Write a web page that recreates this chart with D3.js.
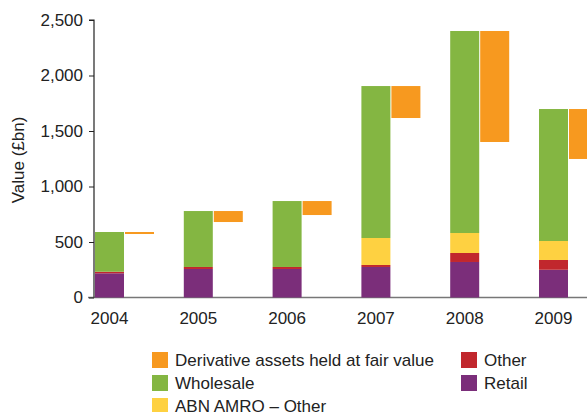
<!DOCTYPE html>
<html><head><meta charset="utf-8">
<script src="https://cdn.jsdelivr.net/npm/d3@7"></script>
<style>body{margin:0;background:#fff}svg{display:block;font-family:"Liberation Sans",Arial,sans-serif}</style>
</head><body><svg id="c" width="587" height="412"></svg>
<script>
const years = ["2004","2005","2006","2007","2008","2009"];
const retail = [218, 257, 257, 275, 320, 250];
const other = [14, 18, 18, 18, 81, 88];
const abnOther = [0, 0, 0, 243, 180, 171];
const wholesale = [358, 504, 594, 1369, 1820, 1189];
const derivative = [18, 99, 126, 288, 1000, 450];
const yTicks = [0, 500, 1000, 1500, 2000, 2500];
const seriesNames = ["Retail","Other","ABN AMRO – Other","Wholesale"];
const legendNames = ["Derivative assets held at fair value","Wholesale","ABN AMRO – Other","Other","Retail"];

const colors = {"Retail":"#7B2E7A","Other":"#C1272D","ABN AMRO – Other":"#FED141","Wholesale":"#84B642","Derivative assets held at fair value":"#F7991F"};

const svg = d3.select("#c");
const y = d3.scaleLinear().domain([0,2500]).range([297.5,20]);
const x = d3.scalePoint().domain(years).range([109.5,553.5]);
const bw = 29;

const rows = years.map((yr,i)=>({year:yr,"Retail":retail[i],"Other":other[i],"ABN AMRO – Other":abnOther[i],"Wholesale":wholesale[i]}));
const stack = d3.stack().keys(seriesNames)(rows);

// baseline
svg.append("line").attr("x1",88).attr("x2",587).attr("y1",y(0)).attr("y2",y(0)).attr("stroke","#777").attr("stroke-width",1.5);

stack.forEach(s=>{
  svg.append("g").selectAll("rect").data(s).join("rect")
    .attr("x",d=>x(d.data.year)-bw/2)
    .attr("width",bw)
    .attr("y",d=>y(d[1]))
    .attr("height",d=>Math.max(0,y(d[0])-y(d[1])))
    .attr("fill",colors[s.key]);
});
const totals = rows.map(r=>seriesNames.reduce((a,k)=>a+r[k],0));
svg.append("g").selectAll("rect").data(years).join("rect")
  .attr("x",d=>x(d)+bw/2+1)
  .attr("width",bw)
  .attr("y",(d,i)=>y(totals[i]))
  .attr("height",(d,i)=>y(totals[i]-derivative[i])-y(totals[i]))
  .attr("fill",colors["Derivative assets held at fair value"]);

// y axis
const ya = svg.append("g").attr("transform","translate(94,0)")
  .call(d3.axisLeft(y).tickValues(yTicks).tickSize(5).tickPadding(6).tickFormat(d3.format(",")));
ya.select(".domain").attr("stroke","#222").attr("stroke-width",1.2).attr("d","M-5,"+y(2500)+"H0V"+y(0));
ya.selectAll(".tick line").attr("stroke","#222");
ya.selectAll("text").attr("font-size",17).attr("fill","#222").attr("font-family","Liberation Sans, Arial, sans-serif");

// x labels
svg.append("g").selectAll("text").data(years).join("text")
  .attr("x",d=>x(d)).attr("y",324).attr("text-anchor","middle")
  .attr("font-size",17).attr("fill","#222").text(d=>d);

svg.append("text").attr("transform","translate(24,160) rotate(-90)")
  .attr("text-anchor","middle").attr("font-size",17).attr("fill","#222").text("Value (£bn)");

// legend
const legPos = [[152,352],[152,375],[152,398],[461,352],[461,375]];
const lg = svg.append("g").selectAll("g").data(legendNames).join("g")
  .attr("transform",(d,i)=>`translate(${legPos[i][0]},${legPos[i][1]})`);
lg.append("rect").attr("width",16).attr("height",16).attr("fill",d=>colors[d]);
lg.append("text").attr("x",23).attr("y",14).attr("font-size",17).attr("fill","#222").text(d=>d);
</script></body></html>
